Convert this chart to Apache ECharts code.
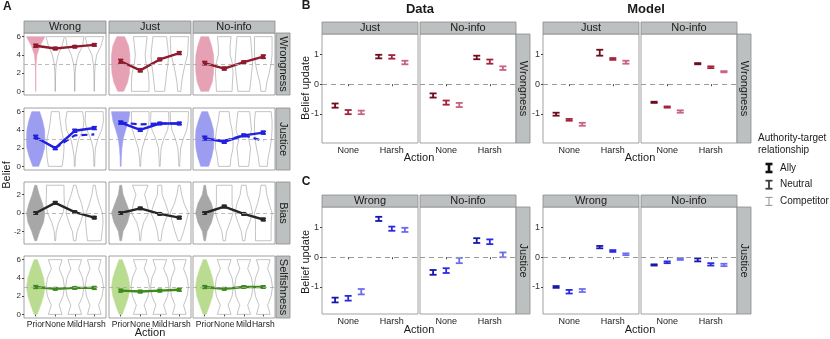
<!DOCTYPE html>
<html>
<head>
<meta charset="utf-8">
<script src="https://cdn.jsdelivr.net/npm/echarts@6/dist/echarts.min.js"></script>
<style>
  html, body { margin: 0; background: #fff; }
  #chart { width: 830px; height: 339px; }
</style>
</head>
<body>
<div id="chart"></div>
<script>
const FONT = '"Liberation Sans", Arial, sans-serif'

// ---- panel A: belief distributions and means ----
const actions = ['Prior', 'None', 'Mild', 'Harsh']
const conditionsA = ['Wrong', 'Just', 'No-info']
const measures = ['Wrongness', 'Justice', 'Bias', 'Selfishness']
const levelsLikert = [0, 1, 2, 3, 4, 5, 6]
const levelsBias = [-3, -2, -1, 0, 1, 2, 3]

// violin half-widths at each level: [condition][action][level]
const violinWrongness = [
  [[0.01, 0.01, 0.01, 0.02, 0.06, 0.22, 0.47], [0.01, 0.01, 0.02, 0.05, 0.15, 0.35, 0.47], [0.01, 0.01, 0.02, 0.06, 0.18, 0.4, 0.47], [0.01, 0.01, 0.02, 0.05, 0.12, 0.35, 0.47]],
  [[0.15, 0.35, 0.45, 0.47, 0.47, 0.4, 0.2], [0.45, 0.45, 0.42, 0.3, 0.25, 0.3, 0.35], [0.25, 0.3, 0.35, 0.42, 0.45, 0.4, 0.35], [0.08, 0.12, 0.2, 0.3, 0.42, 0.45, 0.47]],
  [[0.2, 0.38, 0.45, 0.47, 0.45, 0.35, 0.2], [0.4, 0.42, 0.45, 0.42, 0.3, 0.3, 0.35], [0.3, 0.35, 0.4, 0.45, 0.42, 0.38, 0.35], [0.12, 0.18, 0.3, 0.4, 0.45, 0.45, 0.45]]
]
const violinJustice = [
  [[0.15, 0.32, 0.45, 0.47, 0.45, 0.35, 0.2], [0.35, 0.42, 0.45, 0.42, 0.32, 0.25, 0.2], [0.02, 0.03, 0.1, 0.2, 0.42, 0.47, 0.4], [0.02, 0.03, 0.06, 0.18, 0.38, 0.47, 0.45]],
  [[0.02, 0.03, 0.06, 0.12, 0.25, 0.4, 0.47], [0.02, 0.04, 0.1, 0.25, 0.4, 0.45, 0.45], [0.02, 0.04, 0.07, 0.2, 0.4, 0.47, 0.45], [0.02, 0.04, 0.07, 0.2, 0.38, 0.45, 0.47]],
  [[0.2, 0.35, 0.45, 0.47, 0.45, 0.32, 0.15], [0.3, 0.35, 0.45, 0.45, 0.4, 0.3, 0.25], [0.25, 0.3, 0.35, 0.25, 0.4, 0.35, 0.3], [0.2, 0.25, 0.35, 0.42, 0.45, 0.45, 0.4]]
]
const violinBias = [
  [[0.05, 0.2, 0.4, 0.47, 0.35, 0.18, 0.05], [0.02, 0.05, 0.18, 0.4, 0.47, 0.45, 0.45], [0.06, 0.12, 0.3, 0.45, 0.35, 0.18, 0.06], [0.35, 0.4, 0.45, 0.42, 0.25, 0.12, 0.05]],
  [[0.04, 0.12, 0.35, 0.47, 0.3, 0.12, 0.05], [0.02, 0.06, 0.18, 0.45, 0.35, 0.22, 0.4], [0.06, 0.12, 0.25, 0.45, 0.3, 0.12, 0.1], [0.06, 0.22, 0.35, 0.47, 0.25, 0.12, 0.04]],
  [[0.04, 0.12, 0.35, 0.47, 0.35, 0.12, 0.04], [0.06, 0.12, 0.3, 0.45, 0.4, 0.4, 0.4], [0.06, 0.12, 0.3, 0.45, 0.35, 0.18, 0.12], [0.4, 0.4, 0.4, 0.45, 0.3, 0.18, 0.12]]
]
const violinSelfishness = [
  [[0.08, 0.25, 0.4, 0.47, 0.4, 0.25, 0.08], [0.35, 0.2, 0.4, 0.47, 0.4, 0.2, 0.35], [0.35, 0.2, 0.4, 0.47, 0.4, 0.2, 0.35], [0.35, 0.22, 0.4, 0.47, 0.4, 0.22, 0.35]],
  [[0.08, 0.25, 0.4, 0.47, 0.4, 0.25, 0.08], [0.35, 0.2, 0.4, 0.47, 0.4, 0.2, 0.35], [0.35, 0.2, 0.4, 0.47, 0.4, 0.2, 0.35], [0.35, 0.22, 0.4, 0.47, 0.4, 0.22, 0.35]],
  [[0.08, 0.25, 0.4, 0.47, 0.4, 0.25, 0.08], [0.35, 0.2, 0.4, 0.47, 0.4, 0.2, 0.35], [0.35, 0.2, 0.4, 0.47, 0.4, 0.2, 0.35], [0.35, 0.22, 0.4, 0.47, 0.4, 0.22, 0.35]]
]

// mean beliefs: [condition][action]
const meanWrongness = [[5.0, 4.7, 4.9, 5.1], [3.3, 2.3, 3.5, 4.2], [3.1, 2.5, 3.2, 3.8]]
const meanJustice = [[3.2, 2.0, 3.9, 4.2], [4.8, 4.0, 4.7, 4.7], [3.1, 2.7, 3.4, 3.7]]
const meanBias = [[0.0, 1.1, 0.1, -0.5], [0.0, 0.5, -0.1, -0.5], [0.0, 0.7, -0.1, -0.7]]
const meanSelfishness = [[3.0, 2.8, 2.9, 2.9], [2.6, 2.5, 2.6, 2.7], [3.0, 2.8, 3.0, 3.0]]
const ciWrongness = [[0.15, 0.12, 0.1, 0.12], [0.2, 0.15, 0.12, 0.15], [0.18, 0.15, 0.12, 0.18]]
const ciJustice = [[0.2, 0.15, 0.15, 0.15], [0.15, 0.15, 0.1, 0.12], [0.2, 0.15, 0.12, 0.15]]
const ciBias = [[0.1, 0.12, 0.1, 0.1], [0.08, 0.1, 0.08, 0.12], [0.08, 0.12, 0.1, 0.12]]
const ciSelfishness = [[0.15, 0.12, 0.12, 0.15], [0.15, 0.12, 0.12, 0.15], [0.15, 0.12, 0.12, 0.12]]
// second (dashed) justice strand
const dashJustice = [[null, 2.0, 3.4, 3.5], [4.8, 4.6, 4.7, 4.7], [3.0, 2.8, 3.4, 2.8]]

// ---- panels B and C: belief updates ----
const updateActions = ['None', 'Harsh']
const relationships = ['Ally', 'Neutral', 'Competitor']
// order: None(ally, neutral, competitor), Harsh(ally, neutral, competitor)
const wrongDataJust = [-0.72, -0.94, -0.95, 0.93, 0.92, 0.73]
const wrongDataNoinfo = [-0.38, -0.62, -0.70, 0.90, 0.76, 0.54]
const wrongModelJust = [-1.01, -1.20, -1.35, 1.06, 0.85, 0.74]
const wrongModelNoinfo = [-0.61, -0.77, -0.92, 0.69, 0.57, 0.42]
const justDataWrong = [-1.44, -1.38, -1.16, 1.29, 0.96, 0.92]
const justDataNoinfo = [-0.51, -0.45, -0.11, 0.56, 0.52, 0.08]
const justModelWrong = [-1.00, -1.16, -1.12, 0.34, 0.21, 0.10]
const justModelNoinfo = [-0.26, -0.17, -0.06, -0.09, -0.24, -0.26]
const ciWrongDataJust = [0.07, 0.07, 0.06, 0.06, 0.06, 0.06]
const ciWrongDataNoinfo = [0.07, 0.07, 0.07, 0.06, 0.07, 0.06]
const ciWrongModelJust = [0.05, 0.03, 0.05, 0.1, 0.03, 0.05]
const ciWrongModelNoinfo = [0.02, 0.02, 0.04, 0.02, 0.03, 0.02]
const ciJustDataWrong = [0.08, 0.08, 0.09, 0.07, 0.07, 0.07]
const ciJustDataNoinfo = [0.08, 0.08, 0.09, 0.08, 0.08, 0.08]
const ciJustModelWrong = [0.03, 0.06, 0.05, 0.04, 0.03, 0.03]
const ciJustModelNoinfo = [0.02, 0.03, 0.03, 0.05, 0.04, 0.04]

const violins = [violinWrongness, violinJustice, violinBias, violinSelfishness]
const means = [meanWrongness, meanJustice, meanBias, meanSelfishness]
const cis = [ciWrongness, ciJustice, ciBias, ciSelfishness]
const fillA = ['#e6a1b5', '#9c9cf0', '#a7a7a7', '#b9dc90']
const lineA = ['#8e1b2c', '#2020e0', '#262626', '#3f8a1c']
const wrongColors = ['#6e0d1d', '#a3233d', '#c9637f']
const justColors = ['#1717aa', '#2a2ae2', '#6c6cf0']

const grid = [], xAxis = [], yAxis = [], series = [], graphic = []
const noLine = { axisLine: { show: false }, splitLine: { show: false } }

function addGrid(left, top, width, height, xCfg, yCfg) {
  const gi = grid.length
  grid.push({ left, top, width, height, show: true, borderColor: '#8c8c8c', borderWidth: 0.8,
    backgroundColor: '#fff', containLabel: false, outerBoundsMode: 'none' })
  xAxis.push(Object.assign({ gridIndex: gi, type: 'value' }, noLine, xCfg))
  yAxis.push(Object.assign({ gridIndex: gi, type: 'value' }, noLine, yCfg))
  return gi
}

function errorBar(cap, width, colorOf) {
  return (params, api) => {
    const x = api.value(0), m = api.value(1), e = api.value(2)
    const t = api.coord([x, m + e]), b = api.coord([x, m - e])
    const style = { stroke: colorOf(api), lineWidth: width }
    return { type: 'group', children: [
      { type: 'line', shape: { x1: t[0], y1: t[1], x2: b[0], y2: b[1] }, style },
      { type: 'line', shape: { x1: t[0] - cap, y1: t[1], x2: t[0] + cap, y2: t[1] }, style },
      { type: 'line', shape: { x1: b[0] - cap, y1: b[1], x2: b[0] + cap, y2: b[1] }, style }
    ] }
  }
}

function strip(x, y, w, h, label, vertical) {
  graphic.push({ type: 'rect', shape: { x, y, width: w, height: h },
    style: { fill: '#bcc0c0', stroke: '#8c8c8c', lineWidth: 0.8 }, z: 10 })
  graphic.push({ type: 'text', x: x + w / 2, y: y + h / 2, rotation: vertical ? -Math.PI / 2 : 0, z: 11,
    style: { text: label, fontFamily: FONT, fontSize: 11, fill: '#1a1a1a', align: 'center', verticalAlign: 'middle' } })
}

function label(x, y, text, opts) {
  graphic.push({ type: 'text', x, y, rotation: (opts && opts.rotation) || 0, z: 11,
    style: Object.assign({ text, fontFamily: FONT, fontSize: 11, fill: '#1a1a1a', align: 'center', verticalAlign: 'middle' }, opts && opts.style) })
}

// ---- build panel A ----
const colLeftA = [24, 109, 193]
const rowTopA = [33, 108, 182, 256]
measures.forEach((measure, r) => {
  const isBias = r === 2
  const levels = isBias ? levelsBias : levelsLikert
  const yTicks = isBias ? [-2, 0, 2] : [0, 2, 4, 6]
  conditionsA.forEach((cond, c) => {
    const bottom = r === measures.length - 1
    const gi = addGrid(colLeftA[c], rowTopA[r], 82, 62,
      { min: 0.4, max: 4.6,
        axisTick: { show: bottom, length: 2, customValues: [1, 2, 3, 4], lineStyle: { color: '#444' } },
        axisLabel: { show: bottom, customValues: [1, 2, 3, 4], formatter: v => actions[Math.round(v) - 1],
          fontFamily: FONT, fontSize: 8.5, color: '#222', margin: 2 } },
      { min: isBias ? -3.35 : -0.4, max: isBias ? 3.35 : 6.4,
        axisTick: { show: c === 0, length: 2, customValues: yTicks, lineStyle: { color: '#444' } },
        axisLabel: { show: c === 0, customValues: yTicks, fontFamily: FONT, fontSize: 8, color: '#333', margin: 3 } })

    series.push({ type: 'custom', xAxisIndex: gi, yAxisIndex: gi, silent: true, animation: false,
      data: actions.map((a, k) => [k + 1].concat(violins[r][c][k])),
      renderItem: (params, api) => {
        const x = api.value(0)
        const right = [], left = []
        levels.forEach((lv, i) => {
          const w = api.value(i + 1)
          right.push(api.coord([x + w, lv]))
          left.unshift(api.coord([x - w, lv]))
        })
        const prior = params.dataIndex === 0
        return { type: 'polygon', shape: { points: right.concat(left) },
          style: { fill: prior ? fillA[r] : '#fff', stroke: prior ? fillA[r] : '#9c9c9c', lineWidth: 0.6 } }
      } })

    series.push({ type: 'line', xAxisIndex: gi, yAxisIndex: gi, silent: true, animation: false,
      data: actions.map((a, k) => [k + 1, means[r][c][k]]),
      symbol: 'rect', symbolSize: 4, lineStyle: { color: lineA[r], width: 2.4 }, itemStyle: { color: lineA[r] },
      markLine: { silent: true, symbol: 'none', label: { show: false }, animation: false,
        lineStyle: { type: [4, 3], color: '#a8a8a8', width: 0.8 }, data: [{ yAxis: isBias ? 0 : 3 }] } })

    if (r === 1) {
      series.push({ type: 'line', xAxisIndex: gi, yAxisIndex: gi, silent: true, animation: false,
        data: actions.map((a, k) => [k + 1, dashJustice[c][k]]), connectNulls: false,
        symbol: 'none', lineStyle: { color: lineA[r], width: 2.2, type: [6, 4] } })
    }

    series.push({ type: 'custom', xAxisIndex: gi, yAxisIndex: gi, silent: true, animation: false,
      data: actions.map((a, k) => [k + 1, means[r][c][k], cis[r][c][k]]),
      renderItem: errorBar(2.6, 1.6, () => r === 3 ? '#4fa02a' : lineA[r]) })

    if (r === 0) strip(colLeftA[c], 21, 82, 12, cond, false)
  })
  strip(276, rowTopA[r], 14, 62, measure, true)
})
label(150, 333, 'Action')
label(7, 175, 'Belief', { rotation: Math.PI / 2 })
label(3, 7, 'A', { style: { fontWeight: 'bold', fontSize: 12, align: 'left' } })

// ---- build panels B and C ----
const dodge = [-0.3, 0, 0.3]
const panelsBC = [
  { left: 322, top: 34, vals: wrongDataJust, ci: ciWrongDataJust, colors: wrongColors, yLab: true, head: 'Just' },
  { left: 420, top: 34, vals: wrongDataNoinfo, ci: ciWrongDataNoinfo, colors: wrongColors, yLab: false, head: 'No-info' },
  { left: 543, top: 34, vals: wrongModelJust, ci: ciWrongModelJust, colors: wrongColors, yLab: true, head: 'Just' },
  { left: 641, top: 34, vals: wrongModelNoinfo, ci: ciWrongModelNoinfo, colors: wrongColors, yLab: false, head: 'No-info' },
  { left: 322, top: 207, vals: justDataWrong, ci: ciJustDataWrong, colors: justColors, yLab: true, head: 'Wrong' },
  { left: 420, top: 207, vals: justDataNoinfo, ci: ciJustDataNoinfo, colors: justColors, yLab: false, head: 'No-info' },
  { left: 543, top: 207, vals: justModelWrong, ci: ciJustModelWrong, colors: justColors, yLab: true, head: 'Wrong' },
  { left: 641, top: 207, vals: justModelNoinfo, ci: ciJustModelNoinfo, colors: justColors, yLab: false, head: 'No-info' }
]
panelsBC.forEach(p => {
  const h = p.top === 34 ? 109 : 107
  const gi = addGrid(p.left, p.top, 96, h,
    { min: 0.4, max: 2.6,
      axisTick: { show: true, length: 2, customValues: [1, 2], lineStyle: { color: '#444' } },
      axisLabel: { customValues: [1, 2], formatter: v => updateActions[Math.round(v) - 1],
        fontFamily: FONT, fontSize: 9, color: '#222', margin: 3 } },
    { min: p.top === 34 ? -1.98 : -1.91, max: 1.69,
      axisTick: { show: p.yLab, length: 2, customValues: [-1, 0, 1], lineStyle: { color: '#444' } },
      axisLabel: { show: p.yLab, customValues: [-1, 0, 1], fontFamily: FONT, fontSize: 9, color: '#333', margin: 3 } })
  const items = p.vals.map((v, i) => {
    const a = Math.floor(i / 3), rel = i % 3
    return [a + 1 + dodge[rel], v, p.ci[i], rel]
  })
  series.push({ type: 'line', xAxisIndex: gi, yAxisIndex: gi, data: [], silent: true, animation: false,
    markLine: { silent: true, symbol: 'none', label: { show: false }, animation: false,
      lineStyle: { type: [5, 4], color: '#9a9a9a', width: 1 }, data: [{ yAxis: 0 }] } })
  series.push({ type: 'custom', xAxisIndex: gi, yAxisIndex: gi, silent: true, animation: false, data: items,
    renderItem: errorBar(3.5, 1.8, api => p.colors[api.value(3)]) })
  strip(p.left, p.top - 12, 96, 12, p.head, false)
})
strip(516, 34, 14, 109, 'Wrongness', true)
strip(737, 34, 14, 109, 'Wrongness', true)
strip(516, 207, 14, 107, 'Justice', true)
strip(737, 207, 14, 107, 'Justice', true)
label(420, 9, 'Data', { style: { fontWeight: 'bold', fontSize: 13 } })
label(646, 9, 'Model', { style: { fontWeight: 'bold', fontSize: 13 } })
label(306, 6, 'B', { style: { fontWeight: 'bold', fontSize: 12 } })
label(306, 182, 'C', { style: { fontWeight: 'bold', fontSize: 12 } })
label(306, 88, 'Belief update', { rotation: Math.PI / 2 })
label(306, 262, 'Belief update', { rotation: Math.PI / 2 })
label(419, 158, 'Action')
label(640, 158, 'Action')
label(419, 330, 'Action')
label(640, 330, 'Action')

// legend
label(758, 138, 'Authority-target', { style: { fontSize: 10, align: 'left' } })
label(758, 150, 'relationship', { style: { fontSize: 10, align: 'left' } })
const legendGlyph = [{ color: '#111', w: 2.6 }, { color: '#3c3c3c', w: 1.8 }, { color: '#9a9a9a', w: 1.1 }]
relationships.forEach((rel, i) => {
  const y = 168 + i * 16.7
  const s = { stroke: legendGlyph[i].color, lineWidth: legendGlyph[i].w }
  graphic.push({ type: 'group', z: 11, children: [
    { type: 'line', shape: { x1: 769, y1: y - 4, x2: 769, y2: y + 4 }, style: s },
    { type: 'line', shape: { x1: 765.5, y1: y - 4, x2: 772.5, y2: y - 4 }, style: s },
    { type: 'line', shape: { x1: 765.5, y1: y + 4, x2: 772.5, y2: y + 4 }, style: s }
  ] })
  label(780, y, rel, { style: { fontSize: 10, align: 'left' } })
})

const chart = echarts.init(document.getElementById('chart'))
chart.setOption({ animation: false, grid, xAxis, yAxis, series, graphic })
</script>
</body>
</html>
